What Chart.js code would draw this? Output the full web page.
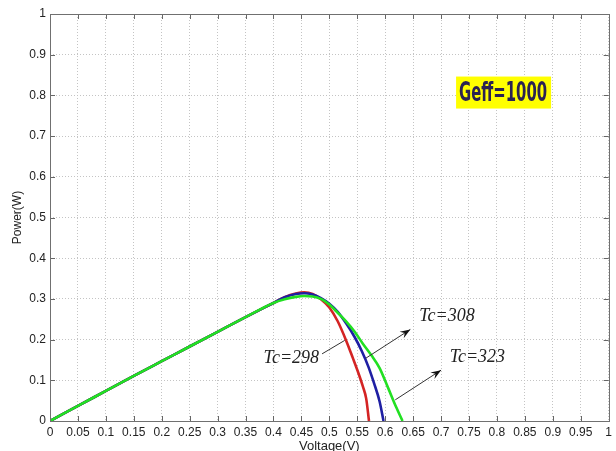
<!DOCTYPE html>
<html>
<head>
<meta charset="utf-8">
<script src="https://cdn.jsdelivr.net/npm/chart.js@4.4.0/dist/chart.umd.min.js"></script>
<style>
  html, body { margin: 0; padding: 0; background: #fff; }
</style>
</head>
<body>
<canvas id="pvChart" width="616" height="451"></canvas>
<script>
// shared linear rise of the P-V curves (V, W)
const riseV = [0, 0.05, 0.1, 0.15, 0.2, 0.25, 0.3, 0.35, 0.4];
const riseP = [0, 0.037, 0.074, 0.111, 0.147, 0.183, 0.219, 0.255, 0.29];

// Tc = 298
const tail298V = [0.42, 0.44, 0.455, 0.47, 0.485, 0.5, 0.515, 0.53, 0.542, 0.552, 0.56, 0.566, 0.571];
const tail298P = [0.304, 0.313, 0.316, 0.312, 0.299, 0.279, 0.245, 0.198, 0.155, 0.118, 0.085, 0.055, 0];
// Tc = 308
const tail308V = [0.42, 0.44, 0.455, 0.47, 0.485, 0.5, 0.515, 0.53, 0.545, 0.558, 0.57, 0.58, 0.59, 0.597];
const tail308P = [0.304, 0.312, 0.314, 0.311, 0.302, 0.288, 0.268, 0.24, 0.207, 0.172, 0.133, 0.093, 0.048, 0];
// Tc = 323
const tail323V = [0.42, 0.44, 0.455, 0.47, 0.485, 0.5, 0.515, 0.53, 0.545, 0.56, 0.575, 0.59, 0.605, 0.62, 0.631];
const tail323P = [0.299, 0.305, 0.307, 0.306, 0.3, 0.286, 0.266, 0.245, 0.22, 0.19, 0.162, 0.13, 0.082, 0.033, 0];

const seriesNames = ["Tc=298", "Tc=308", "Tc=323"];
const seriesColors = ["#d42424", "#1f1fa3", "#22e022"];

// annotation labels: text position, arrow start, arrow end (data units)
const labelPos = [[0.432, 0.155], [0.7105, 0.258], [0.765, 0.156]];
const arrowFrom = [[0.487, 0.165], [0.565, 0.154], [0.618, 0.052]];
const arrowTo = [[0.5275, 0.198], [0.645, 0.225], [0.70, 0.125]];
const arrowHead = [false, true, true];
const boxText = "Geff=1000";
const boxPos = [0.811, 0.807];

const toPoints = (vs, ps) => vs.map((v, i) => ({ x: v, y: ps[i] }));
const curve = (tv, tp) => toPoints(riseV.concat(tv), riseP.concat(tp));
const curves = [curve(tail298V, tail298P), curve(tail308V, tail308P), curve(tail323V, tail323P)];

const fmt = (v) => parseFloat(Number(v).toFixed(2)).toString();
const tickFont = { family: "'Liberation Sans', Arial, sans-serif", size: 12 };

const drawArrow = (ctx, x1, y1, x2, y2, head) => {
  ctx.strokeStyle = "#333";
  ctx.lineWidth = 1;
  ctx.beginPath();
  ctx.moveTo(x1, y1);
  ctx.lineTo(x2, y2);
  ctx.stroke();
  if (!head) return;
  const a = Math.atan2(y2 - y1, x2 - x1);
  const len = 11, w = 0.35;
  ctx.fillStyle = "#111";
  ctx.beginPath();
  ctx.moveTo(x2, y2);
  ctx.lineTo(x2 - len * Math.cos(a - w), y2 - len * Math.sin(a - w));
  ctx.lineTo(x2 - len * 0.6 * Math.cos(a), y2 - len * 0.6 * Math.sin(a));
  ctx.lineTo(x2 - len * Math.cos(a + w), y2 - len * Math.sin(a + w));
  ctx.closePath();
  ctx.fill();
};

const extras = {
  id: "extras",
  afterDraw(chart) {
    const { ctx, chartArea: ca, scales: { x, y } } = chart;
    ctx.save();
    // inward ticks on all four sides
    ctx.strokeStyle = "#666";
    ctx.lineWidth = 1;
    x.ticks.forEach((t) => {
      const px = Math.round(x.getPixelForValue(t.value)) + 0.5;
      ctx.beginPath();
      ctx.moveTo(px, ca.bottom); ctx.lineTo(px, ca.bottom - 5);
      ctx.moveTo(px, ca.top); ctx.lineTo(px, ca.top + 5);
      ctx.stroke();
    });
    y.ticks.forEach((t) => {
      const py = Math.round(y.getPixelForValue(t.value)) + 0.5;
      ctx.beginPath();
      ctx.moveTo(ca.left, py); ctx.lineTo(ca.left + 5, py);
      ctx.moveTo(ca.right, py); ctx.lineTo(ca.right - 5, py);
      ctx.stroke();
    });
    // frame
    ctx.strokeStyle = "#707070";
    ctx.strokeRect(Math.round(ca.left) + 0.5, Math.round(ca.top) + 0.5,
      Math.round(ca.right - ca.left), Math.round(ca.bottom - ca.top));

    // Tc labels and arrows
    seriesNames.forEach((name, i) => {
      drawArrow(ctx,
        x.getPixelForValue(arrowFrom[i][0]), y.getPixelForValue(arrowFrom[i][1]),
        x.getPixelForValue(arrowTo[i][0]), y.getPixelForValue(arrowTo[i][1]), arrowHead[i]);
      ctx.fillStyle = "#222";
      ctx.font = "italic 18px 'Liberation Serif', 'Times New Roman', serif";
      ctx.textAlign = "center";
      ctx.textBaseline = "middle";
      ctx.fillText(name, x.getPixelForValue(labelPos[i][0]), y.getPixelForValue(labelPos[i][1]));
    });

    // Geff box
    const bx = x.getPixelForValue(boxPos[0]);
    const by = y.getPixelForValue(boxPos[1]);
    ctx.fillStyle = "#ffff00";
    ctx.fillRect(bx - 47, by - 16, 95, 32);
    ctx.font = "bold 27px 'Liberation Sans Narrow', 'DejaVu Sans Condensed', sans-serif";
    const tw = ctx.measureText(boxText).width;
    ctx.translate(bx, by + 1);
    ctx.scale(88 / tw, 1);
    ctx.fillStyle = "#2b2352";
    ctx.textAlign = "center";
    ctx.textBaseline = "middle";
    ctx.fillText(boxText, 0, 0);
    ctx.restore();
  },
};

const ctxPv = document.getElementById("pvChart").getContext("2d");
new Chart(ctxPv, {
  type: "line",
  data: {
    datasets: curves.map((pts, i) => ({
      label: seriesNames[i],
      data: pts,
      borderColor: seriesColors[i],
      borderWidth: 2.6,
      pointRadius: 0,
      fill: false,
      cubicInterpolationMode: "monotone",
      order: 3 - i,
    })),
  },
  options: {
    responsive: false,
    animation: false,
    devicePixelRatio: 1,
    layout: { padding: { top: 14, right: 3, left: 0, bottom: 0 } },
    plugins: { legend: { display: false }, tooltip: { enabled: false } },
    scales: {
      x: {
        type: "linear",
        min: 0,
        max: 1,
        afterFit: (s) => { s.height = 30; },
        ticks: { stepSize: 0.05, autoSkip: false, maxRotation: 0, padding: 4, color: "#222", font: tickFont, callback: fmt },
        grid: { color: "#c4c4c4", lineWidth: 1, drawTicks: false },
        border: { display: false, dash: [1, 2] },
        title: { display: true, text: "Voltage(V)", color: "#222", font: { family: tickFont.family, size: 13 }, padding: { top: 0, bottom: -3 } },
      },
      y: {
        type: "linear",
        min: 0,
        max: 1,
        afterFit: (s) => { s.width = 50; },
        ticks: { stepSize: 0.1, padding: 4, color: "#222", font: tickFont, callback: fmt },
        grid: { color: "#c4c4c4", lineWidth: 1, drawTicks: false },
        border: { display: false, dash: [1, 2] },
        title: { display: true, text: "Power(W)", color: "#222", font: { family: tickFont.family, size: 12 }, padding: { top: 10, bottom: 0 } },
      },
    },
  },
  plugins: [extras],
});
</script>
</body>
</html>
